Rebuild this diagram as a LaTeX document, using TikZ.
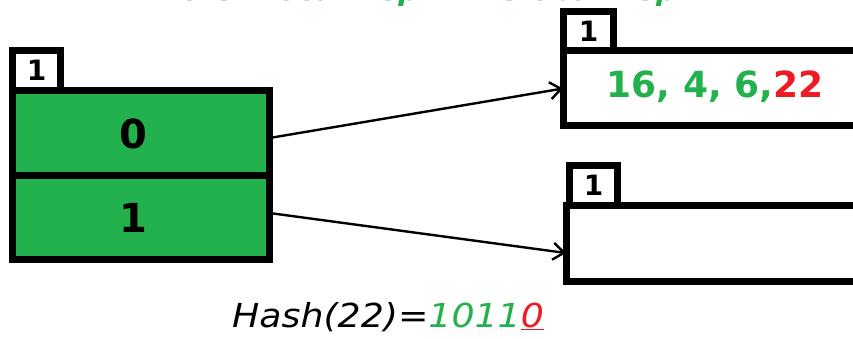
\documentclass[tikz,border=0pt]{standalone}
\usepackage{fontspec}
\setmainfont{DejaVu Sans}
\usetikzlibrary{arrows.meta}
\definecolor{pgreen}{RGB}{34,177,76}
\definecolor{pred}{RGB}{237,28,36}
\tikzset{
  thick box/.style={draw=black, line width=7pt, rectangle, inner sep=0pt, outer sep=0pt},
  cellbox/.style={thick box, fill=pgreen, minimum width=257pt},
  tabbox/.style={thick box, fill=white},
  bucketbox/.style={thick box, fill=white, minimum width=317pt},
  tabtext/.style={font=\bfseries\fontsize{28}{30}\selectfont, inner sep=0pt},
  celltext/.style={font=\bfseries\fontsize{40}{44}\selectfont, inner sep=0pt},
  link/.style={line width=2.4pt, -{Straight Barb[length=11pt, width=17pt, line width=2.4pt]}},
}
\begin{document}
\begin{tikzpicture}[x=1pt, y=1pt]
\useasboundingbox (0,0) rectangle (853,-339);
\clip (0,0) rectangle (853,-339);
\fill[white] (0,0) rectangle (853,-339);

% title (cut off at top)
\node[anchor=base, text=pgreen, font=\itshape\bfseries\fontsize{29}{32}\selectfont, inner sep=0pt] (title) at (434,-0.5) {Note: Local Depth = Global Depth};

% left directory
\node[tabbox, minimum width=48pt, minimum height=40pt] (tab0) at (36.5,-70.5) {};
\node[tabtext] (tab0t) at (36.5,-70) {1};
\node[cellbox, minimum height=85.5pt] (cell0) at (141,-133.25) {};
\node[cellbox, minimum height=83.5pt] (cell1) at (141,-217.75) {};
\node[celltext] (d0) at (133,-133.5) {0};
\node[celltext] (d1) at (133,-218) {1};

% top-right bucket
\node[tabbox, minimum width=50.5pt, minimum height=39.5pt] (tab1) at (588.25,-31.25) {};
\node[tabtext] (tab1t) at (588.5,-31) {1};
\node[bucketbox, minimum height=75pt] (b1) at (721.5,-88.5) {};
\node[font=\bfseries\fontsize{36}{40}\selectfont, inner sep=0pt] (b1t) at (715,-86.5) {{\color{pgreen}16, 4, 6,}{\color{pred}22}};

% bottom-right bucket
\node[tabbox, minimum width=48.5pt, minimum height=40pt] (tab2) at (593.25,-185.5) {};
\node[tabtext] (tab2t) at (593.5,-185.5) {1};
\node[bucketbox, minimum height=76pt] (b2) at (724.5,-243.5) {};

% connectors
\draw[link] ([yshift=-4.75pt]cell0.east) -- (b1.west);
\draw[link] ([yshift=4.75pt]cell1.east) -- ([yshift=-9.5pt]b2.west);

% hash label
\node[font=\itshape\fontsize{33}{36}\selectfont, inner sep=0pt, xscale=1.1] (hash) at (388,-317) {Hash(22)={\color{pgreen}1011}{\color{pred}\underline{0}}};
\end{tikzpicture}
\end{document}
